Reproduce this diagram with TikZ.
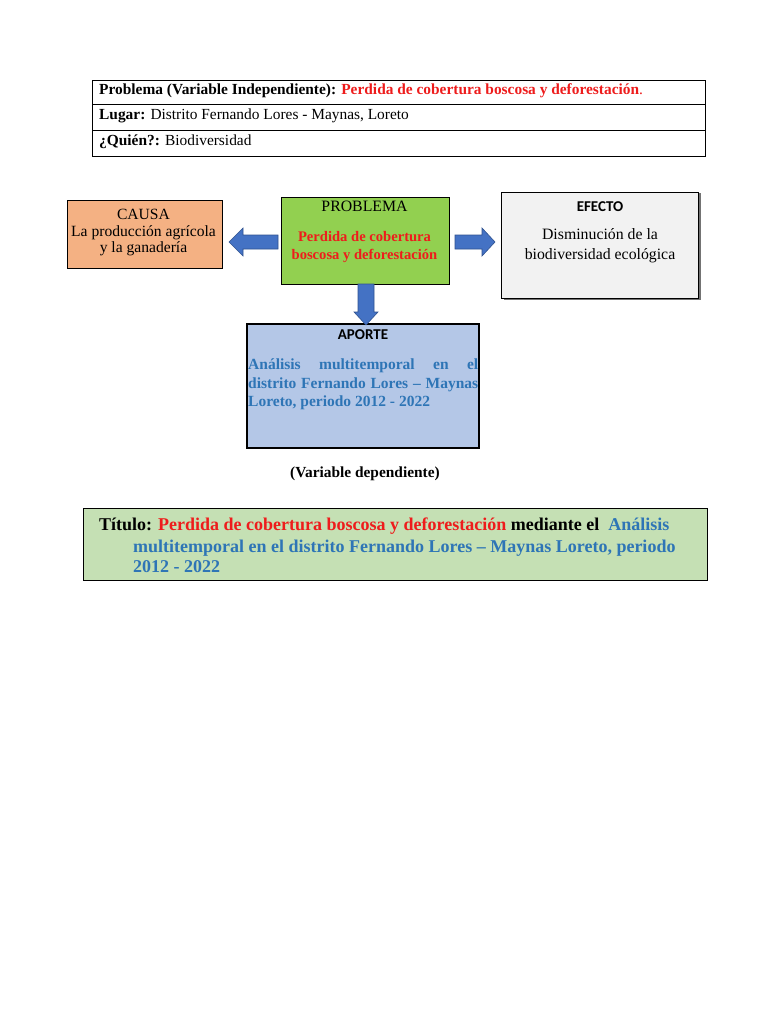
\documentclass[tikz,border=0pt]{standalone}
\usepackage{fontspec}
\setmainfont{Liberation Serif}
\newfontfamily\calib{Carlito}
\usetikzlibrary{calc}
\definecolor{txtred}{HTML}{EE1C1C}
\definecolor{txtblue}{HTML}{2E75B6}
\definecolor{causafill}{HTML}{F4B183}
\definecolor{probfill}{HTML}{92D050}
\definecolor{efecfill}{HTML}{F2F2F2}
\definecolor{apfill}{HTML}{B4C7E7}
\definecolor{titfill}{HTML}{C5E0B4}
\definecolor{arrfill}{HTML}{4472C4}
\definecolor{arrdraw}{HTML}{2F528F}
\tikzset{
  box/.style={draw=black, line width=0.9pt, inner sep=0pt, outer sep=0pt, anchor=north west},
  rowbox/.style={draw=black, line width=0.8pt, inner sep=0pt, outer sep=0pt, anchor=north west, minimum width=613pt},
  tabtxt/.style={inner sep=0pt, anchor=base west, font=\fontsize{15.4}{17}\selectfont},
  ctxt/.style={inner sep=0pt, anchor=base, font=\fontsize{15.8}{18}\selectfont},
  redtxt/.style={inner sep=0pt, anchor=base, text=txtred, font=\bfseries\fontsize{14.6}{17}\selectfont},
  headtxt/.style={inner sep=0pt, anchor=base, font=\calib\bfseries\fontsize{15}{17}\selectfont},
  bluetxt/.style={inner sep=0pt, anchor=base west, text=txtblue, font=\bfseries\fontsize{15.5}{18}\selectfont},
  blockarrow/.style={fill=arrfill, draw=arrdraw, line width=0.6pt, line join=miter},
  tittxt/.style={inner sep=0pt, anchor=base west, font=\bfseries\fontsize{18}{21}\selectfont},
}
\begin{document}
\begin{tikzpicture}[x=1pt,y=-1pt]
\useasboundingbox[fill=white] (0,0) rectangle (768,1024);
% table
\node[rowbox, minimum height=24pt] (r1) at (92,80) {};
\node[rowbox, minimum height=26pt] (r2) at (92,104) {};
\node[rowbox, minimum height=26pt] (r3) at (92,130) {};
\node[tabtxt] (t1) at (99,94.5) {\textbf{Problema (Variable Independiente):} \textcolor{txtred}{\textbf{Perdida de cobertura boscosa y deforestación}.}};
\node[tabtxt] (t2) at (99,119.5) {\textbf{Lugar:} Distrito Fernando Lores - Maynas, Loreto};
\node[tabtxt] (t3) at (99,145.5) {\textbf{¿Quién?:} Biodiversidad};
% boxes
\node[box, fill=causafill, minimum width=155pt, minimum height=68pt] (causa) at (67,200) {};
\node[ctxt, font=\fontsize{15.6}{18}\selectfont] (causa1) at (143.5,219.5) {CAUSA};
\node[ctxt, font=\fontsize{15.6}{18}\selectfont] (causa2) at (143.5,236.5) {La producción agrícola};
\node[ctxt, font=\fontsize{15.6}{18}\selectfont] (causa3) at (143.5,252.5) {y la ganadería};
\node[box, fill=probfill, minimum width=168pt, minimum height=87pt] (prob) at (281,197) {};
\node[ctxt] (prob1) at (364.5,211.5) {PROBLEMA};
\node[redtxt] (prob2) at (364.5,241) {Perdida de cobertura};
\node[redtxt] (prob3) at (364.5,259) {boscosa y deforestación};
\fill[black!55] (503.5,193.5) rectangle (701,300);
\node[box, fill=efecfill, minimum width=197pt, minimum height=106pt] (efec) at (501,192) {};
\node[headtxt] (efec1) at (600,212) {EFECTO};
\node[ctxt] (efec2) at (600,240) {Disminución de la};
\node[ctxt] (efec3) at (600,259) {biodiversidad ecológica};
\node[box, fill=apfill, line width=1.1pt, minimum width=232pt, minimum height=124pt] (apor) at (247,324) {};
\node[headtxt] (apor1) at (363,339.5) {APORTE};
\node[bluetxt] (apor2) at (248,369) {\hbox to 230pt{Análisis\hfill multitemporal\hfill en\hfill el}};
\node[bluetxt] (apor3) at (248,388) {\hbox to 230pt{distrito\hfill Fernando\hfill Lores\hfill –\hfill Maynas}};
\node[bluetxt] (apor4) at (248,406) {Loreto, periodo 2012 - 2022};
\node[ctxt, font=\bfseries\fontsize{15.4}{17}\selectfont] (vd) at (365,477) {(Variable dependiente)};
% arrows
\coordinate (lt) at ($(prob.west)+(-3,1.5)$);
\coordinate (lp) at ($(causa.east |- lt)+(7,0)$);
\draw[blockarrow] ($(lt)+(0,-7)$) -- ($(lp)+(14,-7)$) -- ($(lp)+(14,-14)$) -- (lp) -- ($(lp)+(14,14)$) -- ($(lp)+(14,7)$) -- ($(lt)+(0,7)$) -- cycle;
\coordinate (rt) at ($(prob.east)+(6,1.5)$);
\coordinate (rp) at ($(efec.west |- rt)+(-6,0)$);
\draw[blockarrow] ($(rt)+(0,-7)$) -- ($(rp)+(-13,-7)$) -- ($(rp)+(-13,-14)$) -- (rp) -- ($(rp)+(-13,14)$) -- ($(rp)+(-13,7)$) -- ($(rt)+(0,7)$) -- cycle;
\coordinate (dt) at ($(prob.south)+(1,0)$);
\coordinate (dp) at ($(dt |- apor.north)+(0,1)$);
\draw[blockarrow] ($(dt)+(-8,0)$) -- ($(dp)+(-8,-13)$) -- ($(dp)+(-12,-13)$) -- (dp) -- ($(dp)+(12,-13)$) -- ($(dp)+(8,-13)$) -- ($(dt)+(8,0)$) -- cycle;
% title
\node[box, fill=titfill, line width=1pt, minimum width=624pt, minimum height=72pt] (tit) at (83,508) {};
\node[tittxt] (tit1) at (99,530) {Título: \textcolor{txtred}{Perdida de cobertura boscosa y deforestación} mediante el \ \textcolor{txtblue}{Análisis}};
\node[tittxt, text=txtblue] (tit2) at (133,552) {multitemporal en el distrito Fernando Lores – Maynas Loreto, periodo};
\node[tittxt, text=txtblue] (tit3) at (133,572) {2012 - 2022};
\end{tikzpicture}
\end{document}
